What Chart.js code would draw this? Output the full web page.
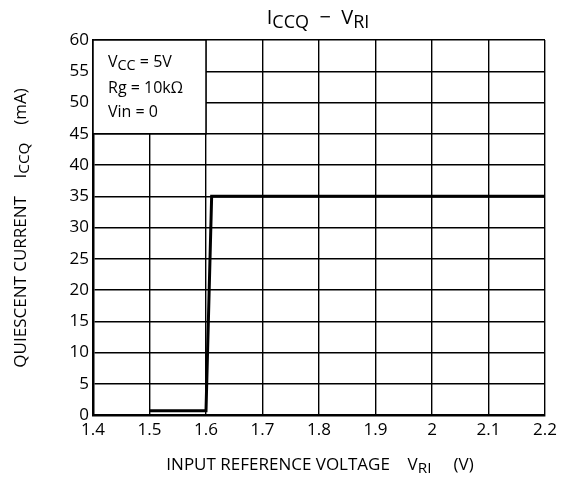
<!DOCTYPE html>
<html>
<head>
<meta charset="utf-8">
<script src="https://cdn.jsdelivr.net/npm/chart.js@4.4.0/dist/chart.umd.min.js"></script>
<style>
    body { margin: 0; background: #fff; }
    canvas { display: block; }
</style>
</head>
<body>
<canvas id="iccqChart" width="568" height="483"></canvas>
<script>
// Data
const voltage = [1.5, 1.6, 1.61, 2.2];
const current = [0.7, 0.7, 35, 35];

// Conditions shown in the inset box
const conditions = [
    [['V', ''], ['CC', 'sub'], [' = 5V', '']],
    [['Rg = 10k\u2126', '']],
    [['Vin = 0', '']]
];

const FONT = '"Open Sans", "DejaVu Sans", sans-serif';

// Draw a line of text made of normal and subscript pieces
function drawRich(ctx, parts, x, y, size, align) {
    let total = 0;
    for (const p of parts) {
        ctx.font = (p[1] === 'sub' ? size * 0.9 : size) + 'px ' + FONT;
        total += ctx.measureText(p[0]).width;
    }
    let cx = align === 'center' ? x - total / 2 : x;
    ctx.textAlign = 'left';
    ctx.textBaseline = 'middle';
    for (const p of parts) {
        const sub = p[1] === 'sub';
        ctx.font = (sub ? size * 0.9 : size) + 'px ' + FONT;
        ctx.fillText(p[0], cx, sub ? y + size * 0.22 : y);
        cx += ctx.measureText(p[0]).width;
    }
}

const labelsPlugin = {
    id: 'labels',
    beforeDatasetsDraw(chart) {
        const ctx = chart.ctx;
        const xs = chart.scales.x, ys = chart.scales.y;
        // White inset box covering the grid in the upper left corner
        const x0 = xs.getPixelForValue(1.4), x1 = xs.getPixelForValue(1.6);
        const y0 = ys.getPixelForValue(60), y1 = ys.getPixelForValue(45);
        ctx.save();
        ctx.fillStyle = '#fff';
        ctx.fillRect(x0, y0, x1 - x0, y1 - y0);
        ctx.strokeStyle = '#000';
        ctx.lineWidth = 1.5;
        ctx.strokeRect(x0, y0, x1 - x0, y1 - y0);
        ctx.fillStyle = '#000';
        const rows = [62, 88, 112];
        conditions.forEach((line, i) => drawRich(ctx, line, x0 + 15, rows[i], 16, 'left'));
        ctx.restore();
    },
    afterDraw(chart) {
        const ctx = chart.ctx;
        ctx.save();
        ctx.fillStyle = '#000';
        // Title
        drawRich(ctx, [['I', ''], ['CCQ', 'sub'], ['  \u2212  V', ''], ['RI', 'sub']], 318, 18, 20, 'center');
        // X axis title
        drawRich(ctx, [['INPUT REFERENCE VOLTAGE    V', ''], ['RI', 'sub'], ['     (V)', '']], 320, 465, 17, 'center');
        // Y axis title, rotated
        ctx.translate(21, 228);
        ctx.rotate(-Math.PI / 2);
        drawRich(ctx, [['QUIESCENT CURRENT    I', ''], ['CCQ', 'sub'], ['    (mA)', '']], 0, 0, 17, 'center');
        ctx.restore();
    }
};

Chart.defaults.color = '#000';
Chart.defaults.font.family = FONT;

const chartConfig = {
    type: 'scatter',
    data: {
        datasets: [{
            data: voltage.map((v, i) => ({ x: v, y: current[i] })),
            showLine: true,
            borderColor: '#000',
            borderWidth: 3,
            pointRadius: 0,
            tension: 0
        }]
    },
    options: {
        responsive: false,
        animation: false,
        layout: { padding: { top: 40, right: 23, left: 0, bottom: 0 } },
        scales: {
            x: {
                type: 'linear',
                min: 1.4,
                max: 2.2,
                ticks: {
                    stepSize: 0.1,
                    padding: 5,
                    font: { size: 17 },
                    callback: (v) => Math.round(v * 10) / 10
                },
                grid: { color: '#000', lineWidth: 1.4, drawTicks: false },
                border: { color: '#000', width: 2.5 },
                afterFit: (s) => { s.height = 68; }
            },
            y: {
                min: 0,
                max: 60,
                ticks: { stepSize: 5, padding: 4, font: { size: 17 } },
                grid: { color: '#000', lineWidth: 1.4, drawTicks: false },
                border: { color: '#000', width: 2.5 },
                afterFit: (s) => { s.width = 93; }
            }
        },
        plugins: {
            legend: { display: false },
            tooltip: { enabled: false },
            title: { display: false }
        }
    },
    plugins: [labelsPlugin]
};

const iccqChart = new Chart('iccqChart', chartConfig);
</script>
</body>
</html>
